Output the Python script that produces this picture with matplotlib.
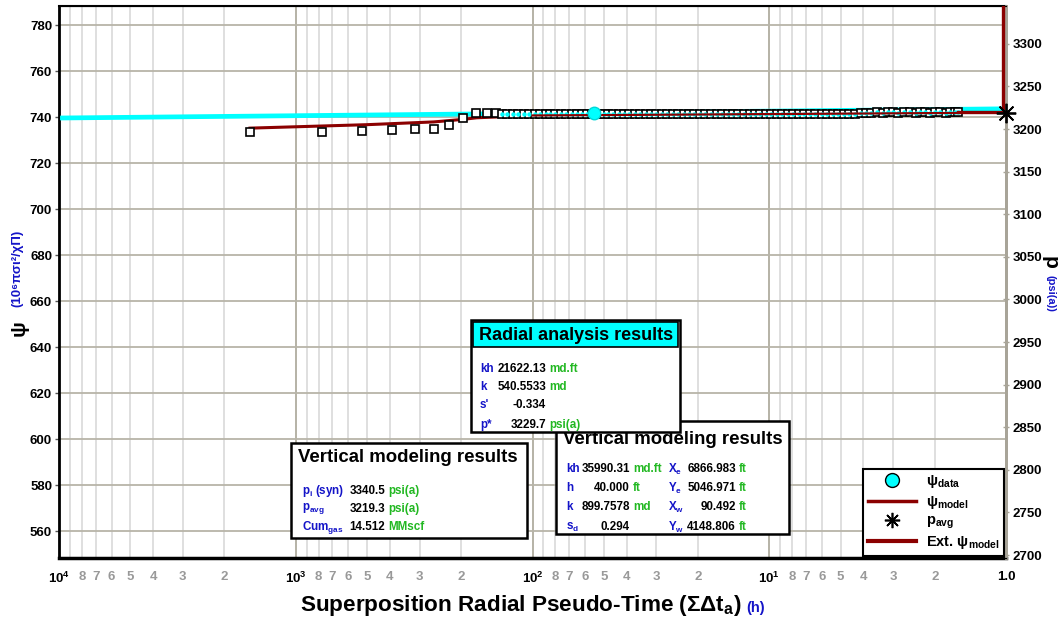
import matplotlib
matplotlib.use("Agg")
import matplotlib.pyplot as plt
from matplotlib.lines import Line2D
from matplotlib.patches import Rectangle

plt.rcParams['font.family'] = ['Liberation Sans', 'DejaVu Sans']
plt.rcParams['font.weight'] = 'bold'
plt.rcParams['mathtext.fontset'] = 'custom'
plt.rcParams['mathtext.rm'] = 'Liberation Sans:bold'
plt.rcParams['mathtext.it'] = 'Liberation Sans:bold'
plt.rcParams['mathtext.bf'] = 'Liberation Sans:bold'

# early-time squares (h, psi)
early_t = [1560, 777, 525, 393, 313, 261, 225, 197, 173, 156, 143]
early_psi = [733.5, 733.5, 733.9, 734.2, 734.8, 734.8, 736.4, 739.4, 741.6, 741.6, 741.6]

# dense late-time squares
dense_t = [135, 128, 121, 115, 109, 103, 98, 93, 88, 84, 80, 76, 72, 68, 65, 62, 59,
           56, 53, 50, 48, 45.5, 43, 41, 39, 37, 35, 33.3, 31.6, 30, 28.5, 27, 25.6,
           24.3, 23, 21.8, 20.7, 19.6, 18.6, 17.6, 16.7, 15.8, 15, 14.2, 13.5, 12.8,
           12.1, 11.5, 10.9, 10.3, 9.8, 9.3, 8.8, 8.3, 7.9, 7.5, 7.1, 6.7, 6.4, 6.0,
           5.7, 5.4, 5.1, 4.85, 4.6, 4.35, 4.1, 3.9, 3.7, 3.5, 3.3, 3.15, 3.0, 2.85,
           2.7, 2.55, 2.4, 2.3, 2.2, 2.1, 2.0, 1.9, 1.8, 1.72, 1.65, 1.6]
dense_psi = [741.5, 741.4, 741.5, 741.4, 741.4, 741.5, 741.4, 741.3, 741.4, 741.4,
             741.3, 741.4, 741.3, 741.3, 741.4, 741.3, 741.3, 741.4, 741.3, 741.3,
             741.3, 741.2, 741.3, 741.3, 741.2, 741.3, 741.3, 741.2, 741.3, 741.2,
             741.3, 741.2, 741.2, 741.3, 741.2, 741.2, 741.3, 741.2, 741.2, 741.2,
             741.3, 741.2, 741.2, 741.3, 741.2, 741.2, 741.3, 741.2, 741.3, 741.2,
             741.3, 741.3, 741.2, 741.3, 741.3, 741.3, 741.2, 741.3, 741.3, 741.3,
             741.4, 741.3, 741.3, 741.4, 741.4, 741.5, 741.6, 741.8, 741.9, 742.0,
             741.9, 742.0, 742.0, 741.9, 742.0, 742.0, 741.9, 742.0, 742.0, 741.9,
             742.0, 742.0, 741.9, 742.0, 742.0, 742.0]

sel_t, sel_psi = [55.0], [741.6]
model_t = [1561, 501, 261, 197, 172, 100, 32, 1.6]
model_psi = [735.2, 736.7, 737.9, 739.0, 739.7, 740.7, 741.0, 741.8]
line_t = [1e4, 1.0]
line_psi = [739.6, 743.6]
ext_t = [1.6, 1.03, 1.03]
ext_p = [3220, 3220, 3360]
pavg_t, pavg_p = [1.0], [3219.3]

psi_ticks = list(range(560, 781, 20))
p_ticks = list(range(2700, 3301, 50))
major_x = [1e4, 1e3, 1e2, 1e1, 1.0]
major_lbl = [r'$\mathrm{10^{4}}$', r'$\mathrm{10^{3}}$', r'$\mathrm{10^{2}}$', r'$\mathrm{10^{1}}$', '1.0']
minor_mult = [2, 3, 4, 5, 6, 7, 8, 9]
minor_lbl = ['2', '3', '4', '5', '6', '7', '8', '']

DRED = '#8b0000'
BLUE = '#1414c8'
GREEN = '#22b822'

W, H = 1063, 620
fig = plt.figure(figsize=(W / 100, H / 100), dpi=100)
ax = fig.add_axes([59 / W, 1 - 558 / H, (1006 - 59) / W, (558 - 6) / H])
ax2 = ax.twinx()

ax.set_xscale('log')
ax.set_xlim(1e4, 1.0)
ax.set_ylim(548.3, 788.3)
ax2.set_ylim(2696.5, 3344.5)

minor_x, minor_labels = [], []
for d in [1e3, 1e2, 1e1, 1.0]:
    for m, l in zip(minor_mult, minor_lbl):
        minor_x.append(m * d)
        minor_labels.append(l)
ax.set_xticks(major_x, major_lbl)
ax.set_xticks(minor_x, minor_labels, minor=True)
ax.tick_params(axis='x', which='both', length=0, pad=9, labelsize=9.5)
for lbl in ax.get_xticklabels(minor=True):
    lbl.set_color('#999999')
ax.set_yticks(psi_ticks)
ax.tick_params(axis='y', length=3, width=1, pad=2, labelsize=9.5, color='#555555')
ax2.set_yticks(p_ticks)
ax2.tick_params(axis='y', length=5, width=1, pad=2, labelsize=9.5, direction='inout', color='#a8a498')

ax.set_axisbelow(True)
ax.grid(axis='y', color='#b8b4a8', lw=1.3)
ax.grid(axis='x', which='major', color='#b0ac9f', lw=1.3)
ax.grid(axis='x', which='minor', color='#dcdcdc', lw=1.3)

ax.spines['left'].set_linewidth(2)
ax.spines['bottom'].set_linewidth(2.5)
ax.spines['top'].set_linewidth(1.5)
for a in (ax, ax2):
    a.spines['right'].set_color('#a8a498')
    a.spines['right'].set_linewidth(2)

# data
ax.plot(line_t, line_psi, color='cyan', lw=3.4, zorder=3)
ax.plot(model_t, model_psi, color=DRED, lw=2.2, zorder=4)
ax.plot(early_t + dense_t, early_psi + dense_psi, ls='none', marker='s', ms=5.5,
        mfc='white', mec='black', mew=1.2, zorder=5)
ax.plot(dense_t, dense_psi, ls='none', marker='o', ms=2.2, mfc='cyan', mec='cyan', zorder=6)
ax.plot(model_t[-3:], model_psi[-3:], color=DRED, lw=1.6, zorder=6)
ax.plot(sel_t, sel_psi, ls='none', marker='o', ms=9, mfc='cyan', mec='#00d8d8', zorder=7)
ax2.plot(ext_t, ext_p, color=DRED, lw=2.4, zorder=4, clip_on=True)
ax2.plot(pavg_t, pavg_p, ls='none', marker=(8, 2, 0), ms=14, mew=1.3, color='black',
         clip_on=False, zorder=8)

handles = [Line2D([], [], ls='none', marker='o', ms=10, mfc='cyan', mec='black', mew=1),
           Line2D([], [], color=DRED, lw=2.5),
           Line2D([], [], ls='none', marker=(8, 2, 0), ms=11, mew=1.2, color='black'),
           Line2D([], [], color=DRED, lw=3)]
labels = [r'$\mathrm{ψ_{data}}$', r'$\mathrm{ψ_{model}}$', r'$\mathrm{p_{avg}}$',
          r'Ext. $\mathrm{ψ_{model}}$']
leg = ax2.legend(handles, labels, loc='lower right', bbox_to_anchor=(1.0, 0.0),
                 borderaxespad=0.15, handlelength=3.3, handletextpad=0.7, borderpad=0.3,
                 labelspacing=0.22, fontsize=10.5, fancybox=False, framealpha=1)
leg.get_frame().set_edgecolor('black')
leg.get_frame().set_linewidth(1.5)


def fx(px):
    return px / W


def fy(py):
    return 1 - py / H


def box(x0, y0, x1, y1, z, lw=1.8, fc='white'):
    fig.add_artist(Rectangle((fx(x0), fy(y1)), fx(x1) - fx(x0), fy(y0) - fy(y1),
                             transform=fig.transFigure, fc=fc, ec='black', lw=lw, zorder=z))


def txt(px, py, s, color='black', size=8.4, ha='left', z=10):
    fig.text(fx(px), fy(py), s, color=color, fontsize=size, ha=ha, va='center',
             zorder=z, fontweight='bold')


# left vertical modeling box
box(291, 443, 527, 538, 5)
txt(298, 458, 'Vertical modeling results', size=13.4, z=6)
for y, lab, val, unit in [(491, r'$\mathrm{p_{i}}$ (syn)', '3340.5', 'psi(a)'),
                          (509, r'$\mathrm{p_{avg}}$', '3219.3', 'psi(a)'),
                          (527, r'$\mathrm{Cum_{gas}}$', '14.512', 'MMscf')]:
    txt(302, y, lab, BLUE, z=6)
    txt(385, y, val, ha='right', z=6)
    txt(388, y, unit, GREEN, z=6)

# right vertical modeling box (partly covered by the radial box, as in the source)
box(556, 421, 789, 534, 5)
txt(563, 439, 'Vertical modeling results', size=13.4, z=6)
rows = [(469, 'kh', '35990.31', 'md.ft', r'$\mathrm{X_{e}}$', '6866.983', 'ft'),
        (488, 'h', '40.000', 'ft', r'$\mathrm{Y_{e}}$', '5046.971', 'ft'),
        (507, 'k', '899.7578', 'md', r'$\mathrm{X_{w}}$', '90.492', 'ft'),
        (527, r'$\mathrm{s_{d}}$', '0.294', '', r'$\mathrm{Y_{w}}$', '4148.806', 'ft')]
for y, l1, v1, u1, l2, v2, u2 in rows:
    txt(566, y, l1, BLUE, z=6)
    txt(630, y, v1, ha='right', z=6)
    txt(633, y, u1, GREEN, z=6)
    txt(668, y, l2, BLUE, z=6)
    txt(736, y, v2, ha='right', z=6)
    txt(739, y, u2, GREEN, z=6)

# radial analysis box
box(471, 320, 680, 432, 7)
box(473, 322, 678, 347, 7.5, lw=1.2, fc='cyan')
txt(576, 335, 'Radial analysis results', size=13, ha='center', z=8)
for y, lab, val, unit in [(369, 'kh', '21622.13', 'md.ft'),
                          (387, 'k', '540.5533', 'md'),
                          (405, "s'", '-0.334', ''),
                          (425, 'p*', '3229.7', 'psi(a)')]:
    txt(480, y, lab, BLUE, z=8)
    txt(546, y, val, ha='right', z=8)
    txt(549, y, unit, GREEN, z=8)

# axis labels
xl = fig.text(fx(300), fy(606), r'Superposition Radial Pseudo-Time (ΣΔ$\mathrm{t_a}$)',
              fontsize=16.2, fontweight='bold', va='center')
fig.canvas.draw()
bb = xl.get_window_extent()
fig.text(bb.x1 / W + 5 / W, fy(608), '(h)', color=BLUE, fontsize=10.5, fontweight='bold',
         va='center')
fig.text(fx(19), fy(328), 'ψ', fontsize=15, fontweight='bold', rotation=90,
         ha='center', va='center')
fig.text(fx(17), fy(268), '(10⁶πσι²/χΠ)', color=BLUE, fontsize=9.5, fontweight='bold',
         rotation=90, ha='center', va='center')
fig.text(fx(1050), fy(262), 'p', fontsize=15, fontweight='bold', rotation=-90,
         ha='center', va='center')
fig.text(fx(1051), fy(293), '(psi(a))', color=BLUE, fontsize=8, fontweight='bold',
         rotation=-90, ha='center', va='center')

fig.savefig('out.png', dpi=100)
